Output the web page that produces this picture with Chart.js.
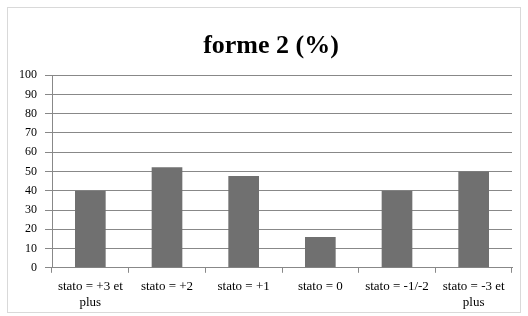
<!DOCTYPE html>
<html>
<head>
<meta charset="utf-8">
<script src="https://cdn.jsdelivr.net/npm/chart.js@4.4.0/dist/chart.umd.min.js"></script>
<style>
  html, body { margin: 0; padding: 0; background: #fff; }
  #wrap { position: relative; width: 528px; height: 316px; }
</style>
</head>
<body>
<div id="wrap"><canvas id="myChart" width="528" height="316"></canvas></div>
<script>
// chart data
var categories = [
	["stato = +3 et", "plus"],
	"stato = +2",
	"stato = +1",
	"stato = 0",
	"stato = -1/-2",
	["stato = -3 et", "plus"]
];
var values = [40, 52.2, 47.6, 16, 40, 50];
var yTicks = [0, 10, 20, 30, 40, 50, 60, 70, 80, 90, 100];

Chart.defaults.font.family = "Liberation Serif";
Chart.defaults.color = "#000";

// light frame round the whole chart, and nudge the title a bit right
var framePlugin = {
	id: "frame",
	afterLayout: function(chart) {
		if (chart.titleBlock) chart.titleBlock.left += 20;
	},
	beforeDraw: function(chart) {
		var c = chart.ctx;
		c.save();
		c.fillStyle = "#fff";
		c.fillRect(0, 0, chart.width, chart.height);
		c.strokeStyle = "#d9d9d9";
		c.lineWidth = 1;
		c.strokeRect(7.5, 7.5, 513, 305);
		c.restore();
	}
};

var ctx = document.getElementById("myChart").getContext("2d");
var chart = new Chart(ctx, {
	type: "bar",
	data: {
		labels: categories,
		datasets: [{
			data: values,
			backgroundColor: "#707070",
			barPercentage: 0.4,
			categoryPercentage: 1
		}]
	},
	options: {
		responsive: false,
		animation: false,
		layout: { padding: { top: 31, left: 10, right: 16, bottom: 0 } },
		plugins: {
			legend: { display: false },
			tooltip: { enabled: false },
			title: {
				display: true,
				text: "forme 2 (%)",
				color: "#000",
				font: { size: 26, weight: "bold" },
				padding: { top: 0, bottom: 13 }
			}
		},
		scales: {
			x: {
				grid: {
					offset: true,
					drawOnChartArea: false,
					drawTicks: true,
					tickLength: 5,
					color: "#888"
				},
				border: { color: "#888" },
				ticks: {
					color: "#000",
					font: { size: 13 },
					maxRotation: 0,
					autoSkip: false,
					padding: 6
				}
			},
			y: {
				min: 0,
				max: 100,
				afterBuildTicks: function(axis) {
					axis.ticks = yTicks.map(function(v) { return { value: v }; });
				},
				afterFit: function(axis) { axis.width = 42; },
				grid: {
					color: "#888",
					tickLength: 7
				},
				border: { color: "#888" },
				ticks: {
					color: "#000",
					font: { size: 12 },
					padding: 8
				}
			}
		}
	},
	plugins: [framePlugin]
});
</script>
</body>
</html>
